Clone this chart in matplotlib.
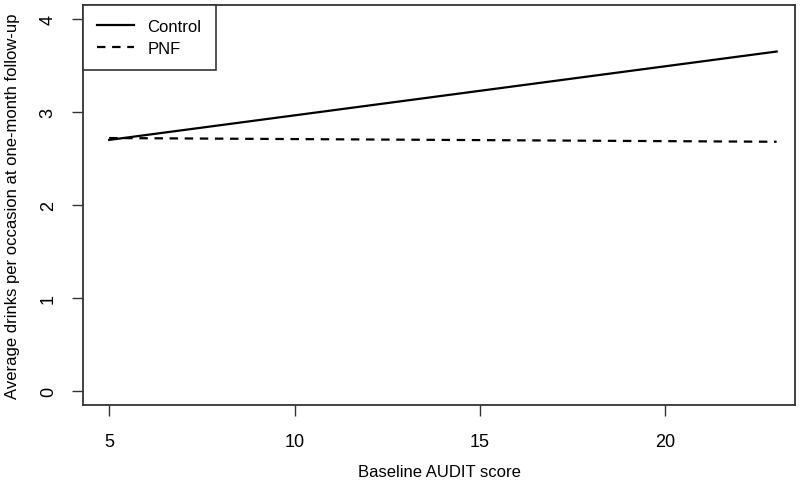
import matplotlib
matplotlib.use("Agg")
import matplotlib.pyplot as plt

# data
audit = [5, 23]
control = [2.70, 3.65]
pnf = [2.72, 2.68]
xticks = [5, 10, 15, 20]
yticks = [0, 1, 2, 3, 4]

plt.rcParams['font.family'] = ['Liberation Sans', 'DejaVu Sans']

fig = plt.figure(figsize=(8, 4.89), dpi=100)
ax = fig.add_axes([0.104, 0.1697, 0.890, 0.818])

ax.plot(audit, control, color='black', lw=1.6, label='Control')
ax.plot(audit, pnf, color='black', lw=1.6, dashes=(3.8, 3), label='PNF')

ax.set_xlim(4.3, 23.5)
ax.set_ylim(-0.15, 4.15)
ax.set_xticks(xticks)
ax.set_yticks(yticks)
ax.tick_params(axis='both', length=8, width=1, color='#333333', labelsize=13)
ax.tick_params(axis='x', pad=12)
ax.tick_params(axis='y', pad=11)
for lab in ax.get_yticklabels():
    lab.set_rotation(90)
    lab.set_va('center')

for sp in ax.spines.values():
    sp.set_color('#333333')
    sp.set_linewidth(1.3)

ax.set_xlabel('Baseline AUDIT score', fontsize=12, labelpad=10)
ax.set_ylabel('Average drinks per occasion at one-month follow-up', fontsize=12, labelpad=14)

leg = ax.legend(loc='upper left', borderaxespad=0, fancybox=False, framealpha=1,
                edgecolor='#333333', fontsize=12, handlelength=2.2, handletextpad=0.8,
                borderpad=0.85, labelspacing=0.4)
leg.get_frame().set_linewidth(1.2)

fig.savefig('out.png', dpi=100)
